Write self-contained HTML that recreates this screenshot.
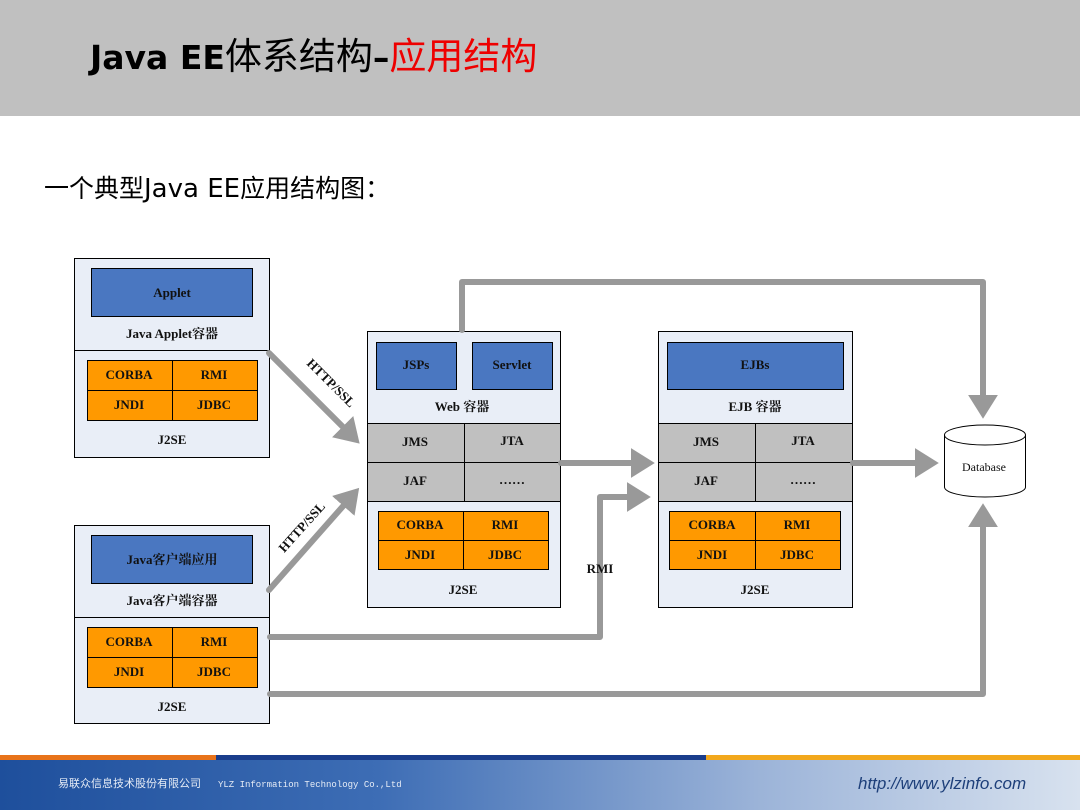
<!DOCTYPE html>
<html><head><meta charset="utf-8"><style>
html,body{margin:0;padding:0;width:1080px;height:810px;overflow:hidden;background:#fff;}
.t{font-family:"Liberation Serif","Noto Serif CJK SC",serif;font-weight:bold;font-size:13px;fill:#111;text-anchor:middle;}
</style></head><body>
<svg width="1080" height="810" xmlns="http://www.w3.org/2000/svg" style="position:absolute;left:0;top:0">
<defs>
<linearGradient id="fg" x1="0" x2="1" y1="0" y2="0">
<stop offset="0" stop-color="#1e4f9c"/><stop offset="0.35" stop-color="#3d6db5"/><stop offset="0.7" stop-color="#9bb3d8"/><stop offset="1" stop-color="#d8e2ef"/>
</linearGradient>
<marker id="ah" markerWidth="5" markerHeight="5" refX="2.2" refY="2.5" orient="auto" markerUnits="strokeWidth">
<path d="M0,0 L4,2.5 L0,5 z" fill="#999"/></marker>
</defs>
<rect x="0" y="0" width="1080" height="116" fill="#c0c0c0"/>
<text x="90" y="69" style="font-family:'DejaVu Sans','Noto Sans CJK SC',sans-serif;font-size:33px;font-weight:bold" fill="#000">Java EE<tspan style="font-family:'Noto Sans CJK SC',sans-serif;font-weight:normal;font-size:37px">体系结构</tspan>–<tspan fill="#e00" style="font-family:'Noto Sans CJK SC',sans-serif;font-weight:normal;font-size:37px">应用结构</tspan></text>
<text x="44" y="197" style="font-family:'Noto Sans CJK SC',sans-serif;font-size:25px" fill="#000">一个典型<tspan style="font-family:'DejaVu Sans',sans-serif;font-size:26px">Java EE</tspan>应用结构图：</text>

<!-- Applet container -->
<rect x="74.5" y="258.5" width="195" height="199" fill="#e9eef7" stroke="#000"/>
<line x1="74" y1="350.5" x2="270" y2="350.5" stroke="#000"/>
<rect x="91.5" y="268.5" width="161" height="48" fill="#4a77c1" stroke="#000"/>
<text class="t" x="172" y="297">Applet</text>
<text class="t" x="172" y="338">Java Applet容器</text>
<rect x="87.5" y="360.5" width="170" height="60" fill="#ff9900" stroke="#000"/>
<line x1="87" y1="390.5" x2="258" y2="390.5" stroke="#000"/><line x1="172.5" y1="360" x2="172.5" y2="421" stroke="#000"/>
<text class="t" x="129" y="379">CORBA</text><text class="t" x="214" y="379">RMI</text>
<text class="t" x="129" y="409">JNDI</text><text class="t" x="214" y="409">JDBC</text>
<text class="t" x="172" y="444">J2SE</text>

<!-- Client container -->
<rect x="74.5" y="525.5" width="195" height="198" fill="#e9eef7" stroke="#000"/>
<line x1="74" y1="617.5" x2="270" y2="617.5" stroke="#000"/>
<rect x="91.5" y="535.5" width="161" height="48" fill="#4a77c1" stroke="#000"/>
<text class="t" x="172" y="564">Java客户端应用</text>
<text class="t" x="172" y="605">Java客户端容器</text>
<rect x="87.5" y="627.5" width="170" height="60" fill="#ff9900" stroke="#000"/>
<line x1="87" y1="657.5" x2="258" y2="657.5" stroke="#000"/><line x1="172.5" y1="627" x2="172.5" y2="688" stroke="#000"/>
<text class="t" x="129" y="646">CORBA</text><text class="t" x="214" y="646">RMI</text>
<text class="t" x="129" y="676">JNDI</text><text class="t" x="214" y="676">JDBC</text>
<text class="t" x="172" y="711">J2SE</text>

<!-- Web container -->
<rect x="367.5" y="331.5" width="193" height="276" fill="#e9eef7" stroke="#000"/>
<rect x="367.5" y="423.5" width="193" height="78" fill="#c0c0c0" stroke="#000"/>
<line x1="367" y1="462.5" x2="561" y2="462.5" stroke="#000"/><line x1="464.5" y1="423" x2="464.5" y2="502" stroke="#000"/>
<rect x="376.5" y="342.5" width="80" height="47" fill="#4a77c1" stroke="#000"/>
<rect x="472.5" y="342.5" width="80" height="47" fill="#4a77c1" stroke="#000"/>
<text class="t" x="416" y="369">JSPs</text><text class="t" x="512" y="369">Servlet</text>
<text class="t" x="462" y="411">Web 容器</text>
<text class="t" x="415" y="446">JMS</text><text class="t" x="512" y="445">JTA</text>
<text class="t" x="415" y="485">JAF</text><text class="t" x="512" y="484">……</text>
<rect x="378.5" y="511.5" width="170" height="58" fill="#ff9900" stroke="#000"/>
<line x1="378" y1="540.5" x2="549" y2="540.5" stroke="#000"/><line x1="463.5" y1="511" x2="463.5" y2="570" stroke="#000"/>
<text class="t" x="420" y="529">CORBA</text><text class="t" x="505" y="529">RMI</text>
<text class="t" x="420" y="559">JNDI</text><text class="t" x="505" y="559">JDBC</text>
<text class="t" x="463" y="594">J2SE</text>

<!-- EJB container -->
<rect x="658.5" y="331.5" width="194" height="276" fill="#e9eef7" stroke="#000"/>
<rect x="658.5" y="423.5" width="194" height="78" fill="#c0c0c0" stroke="#000"/>
<line x1="658" y1="462.5" x2="853" y2="462.5" stroke="#000"/><line x1="755.5" y1="423" x2="755.5" y2="502" stroke="#000"/>
<rect x="667.5" y="342.5" width="176" height="47" fill="#4a77c1" stroke="#000"/>
<text class="t" x="755" y="369">EJBs</text>
<text class="t" x="755" y="411">EJB 容器</text>
<text class="t" x="706" y="446">JMS</text><text class="t" x="803" y="445">JTA</text>
<text class="t" x="706" y="485">JAF</text><text class="t" x="803" y="484">……</text>
<rect x="669.5" y="511.5" width="171" height="58" fill="#ff9900" stroke="#000"/>
<line x1="669" y1="540.5" x2="841" y2="540.5" stroke="#000"/><line x1="755.5" y1="511" x2="755.5" y2="570" stroke="#000"/>
<text class="t" x="712" y="529">CORBA</text><text class="t" x="797" y="529">RMI</text>
<text class="t" x="712" y="559">JNDI</text><text class="t" x="797" y="559">JDBC</text>
<text class="t" x="755" y="594">J2SE</text>

<!-- Database -->
<path d="M944.5,435 L944.5,487 A40.5,10 0 0 0 1025.5,487 L1025.5,435" fill="#fff" stroke="#000"/>
<ellipse cx="985" cy="435" rx="40.5" ry="10" fill="#fff" stroke="#000"/>
<text x="984" y="471" style="font-family:'Liberation Serif',serif;font-size:12px;text-anchor:middle" fill="#111">Database</text>

<!-- connectors -->
<g stroke="#999" stroke-width="6" fill="none" stroke-linejoin="round" stroke-linecap="round">
<line x1="269" y1="353" x2="352" y2="436" marker-end="url(#ah)"/>
<line x1="269" y1="590" x2="352" y2="496" marker-end="url(#ah)"/>
<line x1="561" y1="463" x2="644" y2="463" marker-end="url(#ah)"/>
<line x1="853" y1="463" x2="928" y2="463" marker-end="url(#ah)"/>
<polyline points="462,330 462,282 983,282 983,408" marker-end="url(#ah)"/>
<polyline points="270,637 600,637 600,497 640,497" marker-end="url(#ah)"/>
<polyline points="270,694 983,694 983,514" marker-end="url(#ah)"/>
</g>
<text class="t" x="0" y="0" transform="translate(328,386) rotate(45)">HTTP/SSL</text>
<text class="t" x="0" y="0" transform="translate(305,530) rotate(-48)">HTTP/SSL</text>
<text class="t" x="600" y="573" style="fill:#111">RMI</text>

<!-- footer -->
<rect x="0" y="755" width="216" height="5" fill="#e8731a"/>
<rect x="216" y="755" width="490" height="5" fill="#1a3d8c"/>
<rect x="706" y="755" width="374" height="5" fill="#f2a81c"/>
<rect x="0" y="760" width="1080" height="50" fill="url(#fg)"/>
<text x="58" y="787" style="font-family:'Noto Sans CJK SC',sans-serif;font-size:11px" fill="#e6ecf6">易联众信息技术股份有限公司</text>
<text x="218" y="787" style="font-family:'Liberation Mono',monospace;font-size:9px" fill="#e6ecf6">YLZ Information Technology Co.,Ltd</text>
<text x="858" y="789" style="font-family:'Liberation Sans',sans-serif;font-size:17px;font-style:italic" fill="#1d3f7a">http://www.ylzinfo.com</text>
</svg>
</body></html>
